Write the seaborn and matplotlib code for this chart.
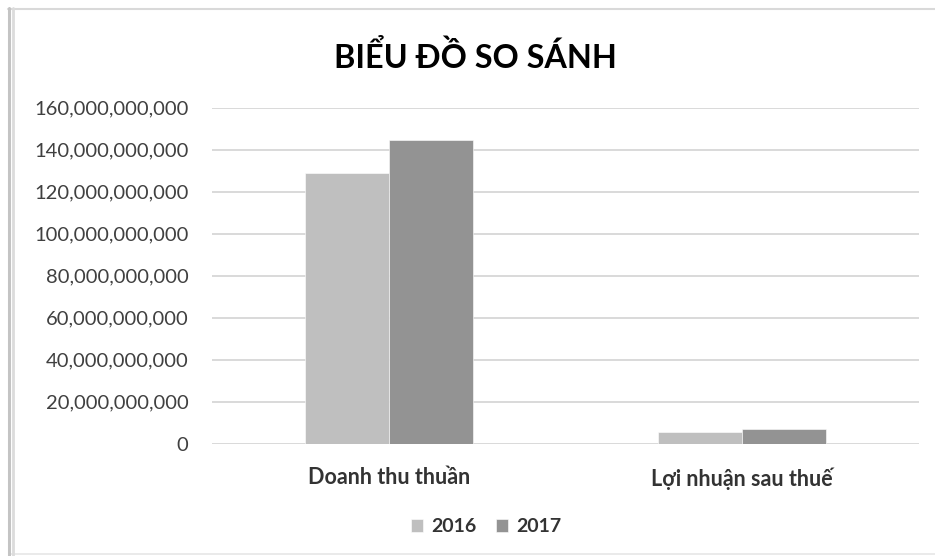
import matplotlib
matplotlib.use("Agg")
import matplotlib.pyplot as plt
import seaborn as sns
import pandas as pd
from matplotlib.lines import Line2D
from matplotlib.ticker import FuncFormatter

categories = ["Doanh thu thuần", "Lợi nhuận sau thuế"]
years = ["2016", "2017"]
values_2016 = [129.0e9, 5.4e9]
values_2017 = [144.6e9, 7.1e9]
yticks = [0, 20e9, 40e9, 60e9, 80e9, 100e9, 120e9, 140e9, 160e9]
title = "BIỂU ĐỒ SO SÁNH"

df = pd.DataFrame({
    "cat": categories * 2,
    "year": [years[0]] * 2 + [years[1]] * 2,
    "val": values_2016 + values_2017,
})

sns.set_theme(style="white")
plt.rcParams['font.family'] = ['Lato', 'DejaVu Sans']

W, H = 935, 556
fig = plt.figure(figsize=(W / 100, H / 100), dpi=100)
ax = fig.add_axes([212 / W, 1 - 443.7 / H, (919 - 212) / W, (443.7 - 107.7) / H])

palette = {"2016": "#BFBFBF", "2017": "#939393"}
sns.barplot(data=df, x="cat", y="val", hue="year", palette=palette,
            width=0.476, gap=0, ax=ax, edgecolor="white", linewidth=0.4,
            legend=True, saturation=1)

ax.set_ylim(0, 160e9)
ax.set_xlim(-0.5, 1.5)
ax.set_yticks(yticks)
ax.yaxis.set_major_formatter(FuncFormatter(lambda v, p: f"{int(round(v)):,}"))
ax.grid(axis="y", color="#D9D9D9", linewidth=1.4)
ax.set_axisbelow(True)
for s in ax.spines.values():
    s.set_visible(False)
ax.set_xlabel("")
ax.set_ylabel("")
ax.tick_params(axis="y", length=0, pad=17, labelsize=14.5, labelcolor="#404040")
ax.tick_params(axis="x", length=0, pad=17, labelsize=15.5, labelcolor="#333333")
for t in ax.get_xticklabels():
    t.set_fontweight("bold")

leg = ax.get_legend()
handles = leg.legend_handles
leg.remove()
fig.legend(handles, years, loc="center", bbox_to_anchor=(486 / W, 1 - 527 / H),
           ncol=2, frameon=False, handlelength=0.65, handleheight=0.65,
           handletextpad=0.4, columnspacing=1.0,
           prop={"weight": "bold", "size": 14})
for t in fig.legends[0].get_texts():
    t.set_color("#333333")

fig.text(475 / W, 1 - 57 / H, title, ha="center", va="center",
         fontsize=23.3, fontweight="bold", color="#000000")

# frame
fig.add_artist(Line2D([8 / W, 1], [1 - 9 / H, 1 - 9 / H], color="#D9D9D9", linewidth=1.5))
fig.add_artist(Line2D([10 / W, 1], [1 - 554 / H, 1 - 554 / H], color="#E6E6E6", linewidth=1.2))
fig.add_artist(Line2D([9 / W, 9 / W], [0, 1 - 8 / H], color="#C4C4C4", linewidth=2.2))
fig.add_artist(Line2D([12.5 / W, 12.5 / W], [0, 1 - 8 / H], color="#DCDCDC", linewidth=2.0))

fig.savefig("out.png", dpi=100)
